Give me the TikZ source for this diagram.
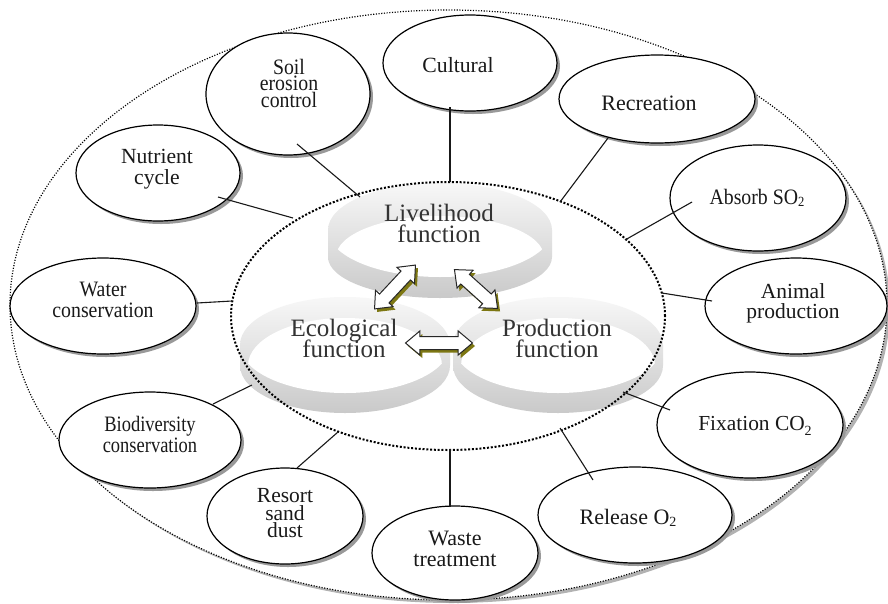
\documentclass[tikz,border=0pt]{standalone}
\usepackage{fontspec}
\setmainfont{Liberation Serif}
\newfontfamily\cnA[FakeStretch=0.9]{Liberation Serif}
\newfontfamily\cnB[FakeStretch=0.84]{Liberation Serif}
\usetikzlibrary{shapes.geometric,shapes.arrows,shadows}
\newcommand\myfs[2]{\fontsize{#1}{#2}\selectfont\lineskiplimit=-40pt}
\newcommand\mysub[1]{\raisebox{-#1}{\fontsize{14}{14}\selectfont 2}}
\tikzset{
  bubble/.style={ellipse, draw=black, line width=1.2pt, fill=white, inner sep=0pt,
    drop shadow={shadow xshift=3pt, shadow yshift=-3pt, fill=black!40, opacity=1}},
  lab/.style={text=black!90, align=center, inner sep=0pt},
  big/.style={lab, text=black!80, font=\myfs{25}{21}},
  link/.style={line width=1.1pt, black!90},
  dbl/.style={double arrow, draw=black!85, line width=1pt, fill=white,
    inner xsep=0pt, inner ysep=6pt, double arrow head extend=5.5pt,
    double arrow tip angle=80, minimum height=#1,
    drop shadow={shadow xshift=2.5pt, shadow yshift=-3pt, fill=olive!85!black, opacity=1}},
  band/.style={top color=gray!6, bottom color=gray!42},
}
\begin{document}
\begin{tikzpicture}[x=1pt,y=-1pt]
\useasboundingbox (0,0) rectangle (888,603);
% outer ellipse with shadow
\fill[gray!60] (451.5,308) ellipse [x radius=438.5, y radius=295];
\node[ellipse, fill=white, draw=black, line width=1.2pt, dash pattern=on 1.1pt off 1.6pt,
  minimum width=877, minimum height=590, inner sep=0pt] (outer) at (448.5,305) {};

% Livelihood band
\shade[band] (328,230) arc[start angle=180, end angle=360, x radius=112, y radius=47]
  -- (552,257) arc[start angle=0, end angle=180, x radius=112, y radius=41] -- cycle;
\begin{scope}
  \clip (440,230) ellipse [x radius=112, y radius=47];
  \fill[white] (440,257) ellipse [x radius=104, y radius=41];
\end{scope}
% Ecological band
\shade[band] (240,345) arc[start angle=180, end angle=360, x radius=105, y radius=48]
  -- (450,365.5) arc[start angle=0, end angle=180, x radius=105, y radius=47.5] -- cycle;
\begin{scope}
  \clip (345,345) ellipse [x radius=105, y radius=48];
  \fill[white] (345,365.5) ellipse [x radius=97, y radius=47.5];
\end{scope}
% Production band
\shade[band] (453,345) arc[start angle=180, end angle=360, x radius=105, y radius=48]
  -- (663,365.5) arc[start angle=0, end angle=180, x radius=105, y radius=47.5] -- cycle;
\begin{scope}
  \clip (558,345) ellipse [x radius=105, y radius=48];
  \fill[white] (558,365.5) ellipse [x radius=97, y radius=47.5];
\end{scope}

% inner dotted ellipse
\node[ellipse, draw=black, line width=2pt, dash pattern=on 2pt off 1.8pt,
  minimum width=434, minimum height=268, inner sep=0pt] (inner) at (448,316) {};

% central texts
\node[big] (liv) at (439,223.5) {Livelihood\\function};
\node[big] (eco) at (344,338) {Ecological\\function};
\node[big] (pro) at (557,338) {Production\\function};

% arrows
\node[dbl=60, rotate=47] (a1) at (395,287) {};
\node[dbl=58, rotate=-42] (a2) at (476,289) {};
\node[dbl=67] (a3) at (439,343) {};

% bubbles
\node[bubble, minimum width=164, minimum height=122] (soil) at (288,94) {};
\node[bubble, minimum width=174, minimum height=96] (cul) at (470,63) {};
\node[bubble, minimum width=196, minimum height=88] (rec) at (657,99) {};
\node[bubble, minimum width=176, minimum height=106] (abs) at (758,198) {};
\node[bubble, minimum width=182, minimum height=96] (ani) at (796,306) {};
\node[bubble, minimum width=186, minimum height=106] (fix) at (750,425) {};
\node[bubble, minimum width=194, minimum height=96] (rel) at (635,515) {};
\node[bubble, minimum width=166, minimum height=94] (was) at (455,553) {};
\node[bubble, minimum width=156, minimum height=96] (res) at (285,516) {};
\node[bubble, minimum width=182, minimum height=96] (bio) at (150,440) {};
\node[bubble, minimum width=186, minimum height=96] (wat) at (103,306) {};
\node[bubble, minimum width=164, minimum height=96] (nut) at (158,173) {};

% bubble texts
\node[lab, font=\myfs{22}{16.8}\cnA] (tsoil) at (289,83.4) {Soil\\erosion\\control};
\node[lab, font=\myfs{21.7}{22}] (tcul) at (458,65.5) {Cultural};
\node[lab, font=\myfs{22}{22}] (trec) at (649,103) {Recreation};
\node[lab, font=\myfs{22}{22}\cnA] (tabs) at (757,197.5) {Absorb SO\mysub{2pt}};
\node[lab, font=\myfs{21.5}{20}] (tani) at (793,303) {Animal\\production};
\node[lab, font=\myfs{21.4}{22}] (tfix) at (755,425.5) {Fixation CO\mysub{5pt}};
\node[lab, font=\myfs{22}{22}] (trel) at (628,518.3) {Release O\mysub{2pt}};
\node[lab, font=\myfs{22}{21}] (twas) at (455,548.7) {Waste\\treatment};
\node[lab, font=\myfs{21.5}{17.3}] (tres) at (285,513.3) {Resort\\sand\\dust};
\node[lab, font=\myfs{22}{21}\cnB] (tbio) at (150,434.7) {Biodiversity\\conservation};
\node[lab, font=\myfs{22}{21.6}\cnA] (twat) at (103,299.7) {Water\\conservation};
\node[lab, font=\myfs{21.6}{20.7}] (tnut) at (157,169.2) {Nutrient\\cycle};

% connector end points
\coordinate (s1) at (297,144);  \coordinate (s2) at (360,197);
\coordinate (c1) at (450,107);  \coordinate (c2) at (450,182);
\coordinate (r1) at (608,138);  \coordinate (r2) at (560,202);
\coordinate (b1) at (692,202);  \coordinate (b2) at (625,240);
\coordinate (n1) at (712,301);  \coordinate (n2) at (662,293);
\coordinate (f1) at (670,410);  \coordinate (f2) at (623,392);
\coordinate (e1) at (593,480);  \coordinate (e2) at (560,428);
\coordinate (w1) at (450,507);  \coordinate (w2) at (450,449);
\coordinate (d1) at (297,468);  \coordinate (d2) at (338,432);
\coordinate (v1) at (213,404);  \coordinate (v2) at (252,385);
\coordinate (q1) at (197,303);  \coordinate (q2) at (232,301);
\coordinate (u1) at (218,197);  \coordinate (u2) at (293,218);

\draw[link] (s1) -- (s2);
\draw[link] (c1) -- (c2);
\draw[link] (r1) -- (r2);
\draw[link] (b1) -- (b2);
\draw[link] (n1) -- (n2);
\draw[link] (f1) -- (f2);
\draw[link] (e1) -- (e2);
\draw[link] (w1) -- (w2);
\draw[link] (d1) -- (d2);
\draw[link] (v1) -- (v2);
\draw[link] (q1) -- (q2);
\draw[link] (u1) -- (u2);
\end{tikzpicture}
\end{document}
